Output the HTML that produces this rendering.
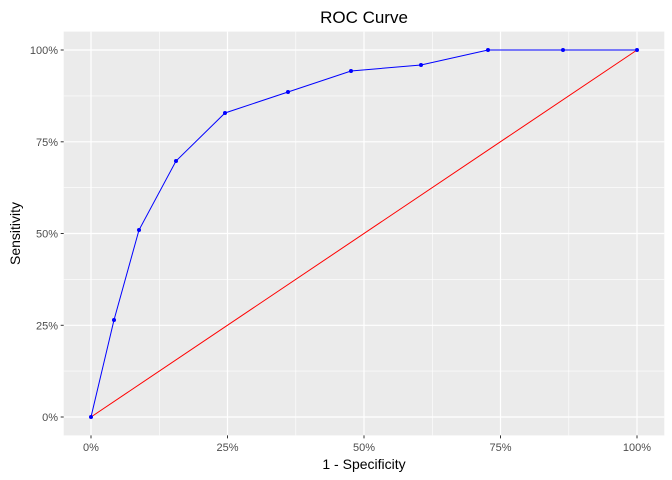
<!DOCTYPE html>
<html><head><style>body{margin:0;background:#fff}svg{display:block}</style></head><body>
<svg width="672" height="480" xmlns="http://www.w3.org/2000/svg" font-family="Liberation Sans, sans-serif">
<rect width="672" height="480" fill="#fff"/>
<rect x="63.7" y="31.6" width="600.6" height="403.8" fill="#EBEBEB"/>
<g stroke="#fff" stroke-width="0.6">
<line x1="63.7" x2="664.3" y1="371.1" y2="371.1"/><line x1="63.7" x2="664.3" y1="279.4" y2="279.4"/><line x1="63.7" x2="664.3" y1="187.6" y2="187.6"/><line x1="63.7" x2="664.3" y1="95.9" y2="95.9"/>
<line y1="31.6" y2="435.4" x1="159.3" x2="159.3"/><line y1="31.6" y2="435.4" x1="295.8" x2="295.8"/><line y1="31.6" y2="435.4" x1="432.3" x2="432.3"/><line y1="31.6" y2="435.4" x1="568.8" x2="568.8"/>
</g>
<g stroke="#fff" stroke-width="1.2">
<line x1="63.7" x2="664.3" y1="417" y2="417"/><line x1="63.7" x2="664.3" y1="325.3" y2="325.3"/><line x1="63.7" x2="664.3" y1="233.5" y2="233.5"/><line x1="63.7" x2="664.3" y1="141.8" y2="141.8"/><line x1="63.7" x2="664.3" y1="50" y2="50"/>
<line y1="31.6" y2="435.4" x1="91" x2="91"/><line y1="31.6" y2="435.4" x1="227.5" x2="227.5"/><line y1="31.6" y2="435.4" x1="364" x2="364"/><line y1="31.6" y2="435.4" x1="500.5" x2="500.5"/><line y1="31.6" y2="435.4" x1="637" x2="637"/>
</g>
<line x1="91" y1="417" x2="637" y2="50" stroke="#FF0000" stroke-width="1"/>
<polyline fill="none" stroke="#0000FF" stroke-width="1" points="91,417 114,320 139,230 176,161 225,113 288,92 351,71 421,65 488,50 563,50 637,50"/>
<g fill="#0000FF">
<circle cx="91" cy="417" r="2"/><circle cx="114" cy="320" r="2"/><circle cx="139" cy="230" r="2"/><circle cx="176" cy="161" r="2"/><circle cx="225" cy="113" r="2"/><circle cx="288" cy="92" r="2"/><circle cx="351" cy="71" r="2"/><circle cx="421" cy="65" r="2"/><circle cx="488" cy="50" r="2"/><circle cx="563" cy="50" r="2"/><circle cx="637" cy="50" r="2"/>
</g>
<g stroke="#333" stroke-width="1">
<line x1="60.7" x2="63.7" y1="417" y2="417"/><line x1="60.7" x2="63.7" y1="325.3" y2="325.3"/><line x1="60.7" x2="63.7" y1="233.5" y2="233.5"/><line x1="60.7" x2="63.7" y1="141.8" y2="141.8"/><line x1="60.7" x2="63.7" y1="50" y2="50"/>
<line y1="435.4" y2="438.4" x1="91" x2="91"/><line y1="435.4" y2="438.4" x1="227.5" x2="227.5"/><line y1="435.4" y2="438.4" x1="364" x2="364"/><line y1="435.4" y2="438.4" x1="500.5" x2="500.5"/><line y1="435.4" y2="438.4" x1="637" x2="637"/>
</g>
<g fill="#4D4D4D" font-size="11" text-anchor="end">
<text x="58" y="421">0%</text><text x="58" y="329.3">25%</text><text x="58" y="237.5">50%</text><text x="58" y="145.8">75%</text><text x="58" y="54">100%</text>
</g>
<g fill="#4D4D4D" font-size="11" text-anchor="middle">
<text x="91" y="451">0%</text><text x="227.5" y="451">25%</text><text x="364" y="451">50%</text><text x="500.5" y="451">75%</text><text x="637" y="451">100%</text>
</g>
<text x="364" y="469" font-size="14" text-anchor="middle" fill="#000">1 - Specificity</text>
<text transform="translate(20,233.5) rotate(-90)" font-size="14" text-anchor="middle" fill="#000">Sensitivity</text>
<text x="364" y="23" font-size="17" text-anchor="middle" fill="#000">ROC Curve</text>
</svg>
</body></html>
